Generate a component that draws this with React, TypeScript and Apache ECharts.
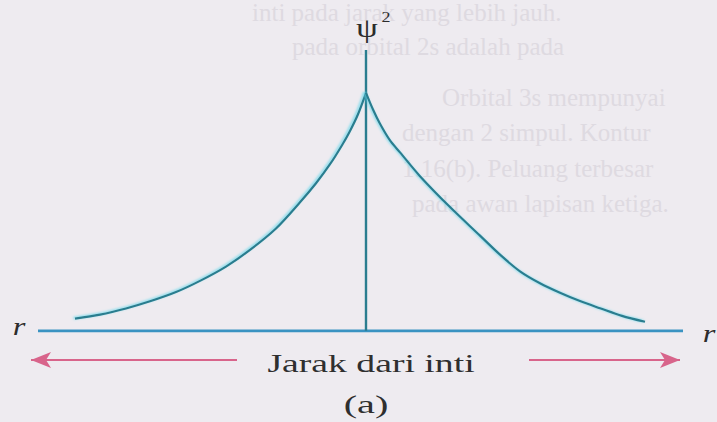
import React, { useEffect, useRef } from "react";
import * as echarts from "echarts";

// Radial probability density ψ² on both sides of the nucleus (distance in arbitrary units)
const distLeft = [-2.91, -2.66, -2.4, -2.16, -1.9, -1.66, -1.4, -1.16, -0.9, -0.66, -0.5, -0.36, -0.24, -0.16, -0.08, 0];
const psiLeft = [0.051, 0.068, 0.094, 0.124, 0.163, 0.21, 0.27, 0.34, 0.43, 0.54, 0.62, 0.7, 0.78, 0.84, 0.91, 1.0];
const distRight = [0, 0.07, 0.14, 0.24, 0.34, 0.54, 0.84, 1.14, 1.34, 1.54, 1.74, 1.94, 2.14, 2.34, 2.56, 2.79];
const psiRight = [1.0, 0.93, 0.87, 0.8, 0.75, 0.65, 0.52, 0.4, 0.32, 0.25, 0.2, 0.16, 0.125, 0.095, 0.063, 0.038];

// Axis extents
const baselineEnds = [-3.28, 3.17];
const psiAxisTop = 1.18;
// Arrows under the distance axis: [tail, head]
const arrowLeft = [-1.29, -3.35];
const arrowRight = [1.63, 3.14];
const arrowLevel = -0.122;

const axisTitle = "ψ";
const axisTitleSup = "2";
const distanceLabel = "Jarak dari inti";
const rLabel = "r";
const panelLabel = "(a)";

// Faint print showing through from the facing page
const ghostLines = [
  { text: "inti pada jarak yang lebih jauh.", x: 252, y: 12 },
  { text: "pada orbital 2s adalah pada", x: 292, y: 46 },
  { text: "Orbital 3s mempunyai", x: 442, y: 97 },
  { text: "dengan 2 simpul. Kontur", x: 402, y: 132 },
  { text: "1.16(b). Peluang terbesar", x: 402, y: 168 },
  { text: "pada awan lapisan ketiga.", x: 412, y: 203 },
];

const SERIF = "'Liberation Serif', 'DejaVu Serif', serif";

export default function App() {
  const ref = useRef<HTMLDivElement>(null);

  useEffect(() => {
    if (!ref.current) return;
    const chart = echarts.init(ref.current, undefined, { renderer: "svg" });

    const curveStyle = {
      color: "#2a7d8f",
      width: 2.2,
      shadowColor: "rgba(95,215,235,0.85)",
      shadowBlur: 2,
      shadowOffsetX: -1.5,
      shadowOffsetY: -0.5,
    };

    const ghost = ghostLines.map((g) => ({
      type: "text",
      x: g.x,
      y: g.y,
      silent: true,
      z: -10,
      style: {
        text: g.text,
        font: `25px ${SERIF}`,
        fill: "#dedae1",
        textAlign: "left",
        textVerticalAlign: "middle",
      },
    }));

    const label = (
      text: string,
      x: number,
      y: number,
      font: string,
      scaleX: number,
      fill = "#2c2c2c"
    ) => ({
      type: "text",
      x,
      y,
      scaleX,
      silent: true,
      style: { text, font, fill, textAlign: "center", textVerticalAlign: "middle" },
    });

    chart.setOption({
      animation: false,
      backgroundColor: "#eeebf0",
      grid: { left: 0, right: 0, top: 50, height: 352.24 },
      xAxis: { type: "value", min: -3.66, max: 3.51, show: false },
      yAxis: { type: "value", min: -0.3, max: psiAxisTop, show: false },
      series: [
        {
          name: "baseline",
          type: "line",
          data: baselineEnds.map((x) => [x, 0]),
          symbol: "none",
          silent: true,
          lineStyle: { color: "#3a93c2", width: 2.6 },
          markLine: {
            silent: true,
            symbol: ["none", "arrow"],
            symbolSize: [12, 20],
            label: { show: false },
            lineStyle: { color: "#d8648b", width: 2, type: "solid" },
            data: [
              [{ coord: [arrowLeft[0], arrowLevel] }, { coord: [arrowLeft[1], arrowLevel] }],
              [{ coord: [arrowRight[0], arrowLevel] }, { coord: [arrowRight[1], arrowLevel] }],
            ],
          },
        },
        {
          name: "psiAxis",
          type: "line",
          data: [
            [0, 0],
            [0, psiAxisTop],
          ],
          symbol: "none",
          silent: true,
          lineStyle: { color: "#2a7d8f", width: 2.4 },
        },
        {
          name: "left",
          type: "line",
          data: distLeft.map((d, i) => [d, psiLeft[i]]),
          symbol: "none",
          smooth: 0.3,
          silent: true,
          lineStyle: curveStyle,
        },
        {
          name: "right",
          type: "line",
          data: distRight.map((d, i) => [d, psiRight[i]]),
          symbol: "none",
          smooth: 0.3,
          silent: true,
          lineStyle: curveStyle,
        },
      ],
      graphic: [
        ...ghost,
        label(axisTitle, 367, 28, `28px ${SERIF}`, 1.25),
        label(axisTitleSup, 386, 17, `15px ${SERIF}`, 1.2),
        label(rLabel, 19, 326, `italic 26px ${SERIF}`, 1.25),
        label(rLabel, 709, 333, `italic 26px ${SERIF}`, 1.25),
        label(distanceLabel, 371, 363, `26px ${SERIF}`, 1.45, "#2f2f2f"),
        label(panelLabel, 366, 404, `26px ${SERIF}`, 1.55, "#2f2f2f"),
      ],
    });

    return () => chart.dispose();
  }, []);

  return (
    <div
      ref={ref}
      style={{ position: "fixed", left: 0, top: 0, width: 717, height: 422 }}
    />
  );
}
